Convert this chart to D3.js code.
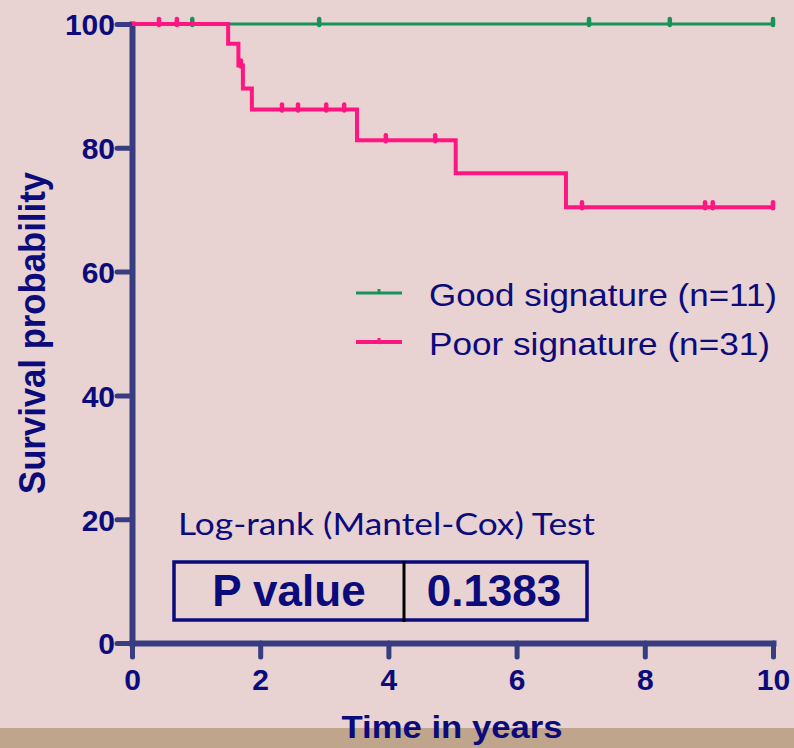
<!DOCTYPE html>
<html>
<head>
<meta charset="utf-8">
<script src="https://cdn.jsdelivr.net/npm/d3@7"></script>
<style>
  body { margin: 0; background: #e8d2d2; }
  svg { display: block; }
</style>
</head>
<body>
<script>
(function() {
  'use strict';

  // Kaplan-Meier steps
  const poorTimes = [0, 1.50, 1.66, 1.73, 1.87, 3.51, 5.05, 6.77, 10];
  const poorSurv = [100, 96.8, 93.3, 89.6, 86.2, 81.2, 75.9, 70.4, 70.4];
  const poorCensor = [0.42, 0.70, 1.70, 2.34, 2.59, 3.03, 3.31, 3.96, 4.73, 7.02, 8.94, 9.06, 10.0];

  const goodTimes = [0, 10];
  const goodSurv = [100, 100];
  const goodCensor = [0.94, 2.92, 7.13, 8.39, 10.0];

  const xTicks = [0, 2, 4, 6, 8, 10];
  const yTicks = [0, 20, 40, 60, 80, 100];
  const legendLabels = ['Good signature (n=11)', 'Poor signature (n=31)'];

  const w = 794;
  const h = 748;
  const navy = '#0b0b7c';
  const axisColor = '#383c80';
  const pink = '#ff1680';
  const green = '#17935a';

  const xScale = d3.scaleLinear().domain([0, 10]).range([132, 773]);
  const yScale = d3.scaleLinear().domain([0, 100]).range([643, 24]);

  const svg = d3.select('body').append('svg')
    .attr('width', w)
    .attr('height', h);

  svg.append('rect').attr('width', w).attr('height', h).attr('fill', '#e8d2d2');
  svg.append('rect').attr('y', 728).attr('width', w).attr('height', h - 728).attr('fill', '#bea58b');

  // axes
  const xAxis = svg.append('g')
    .attr('transform', 'translate(0,643)')
    .call(d3.axisBottom(xScale).tickValues(xTicks).tickSize(14).tickSizeOuter(0).tickFormat(d3.format('d')));
  const yAxis = svg.append('g')
    .attr('transform', 'translate(132,0)')
    .call(d3.axisLeft(yScale).tickValues(yTicks).tickSize(15).tickSizeOuter(0).tickFormat(d3.format('d')));

  [xAxis, yAxis].forEach((g) => {
    g.select('.domain').attr('stroke', axisColor).attr('stroke-width', 6).attr('stroke-linecap', 'square');
    g.selectAll('.tick line').attr('stroke', axisColor).attr('stroke-width', 5).attr('stroke-linecap', 'round');
    g.selectAll('.tick text')
      .attr('fill', navy)
      .style('font-family', '"Liberation Sans", Arial, sans-serif')
      .style('font-weight', 'bold')
      .style('font-size', '30px');
  });
  xAxis.selectAll('.tick text').attr('y', 47).attr('dy', 0);
  yAxis.selectAll('.tick text').attr('x', -17).attr('dy', '0.36em');

  // curves
  const line = d3.line()
    .x((d) => xScale(d[0]))
    .y((d) => yScale(d[1]))
    .curve(d3.curveStepAfter);

  function survAt(times, surv, t) {
    let v = surv[0];
    for (let i = 0; i < times.length; i++) {
      if (times[i] <= t) v = surv[i];
    }
    return v;
  }

  function drawCurve(times, surv, censor, color, width) {
    const pts = times.map((t, i) => [t, surv[i]]);
    svg.append('path')
      .datum(pts)
      .attr('fill', 'none')
      .attr('stroke', color)
      .attr('stroke-width', width)
      .attr('d', line);
    svg.selectAll(null)
      .data(censor)
      .enter()
      .append('line')
      .attr('x1', (d) => xScale(d))
      .attr('x2', (d) => xScale(d))
      .attr('y1', (d) => yScale(survAt(times, surv, d)) - 5)
      .attr('y2', (d) => yScale(survAt(times, surv, d)) + 1)
      .attr('stroke', color)
      .attr('stroke-width', 4.5)
      .attr('stroke-linecap', 'round');
  }

  drawCurve(goodTimes, goodSurv, goodCensor, green, 3);
  drawCurve(poorTimes, poorSurv, poorCensor, pink, 4);

  // legend
  const legendColors = [green, pink];
  const legend = svg.append('g');
  legendLabels.forEach((lab, i) => {
    const ly = 293 + i * 49;
    legend.append('line')
      .attr('x1', 356).attr('x2', 402).attr('y1', ly).attr('y2', ly)
      .attr('stroke', legendColors[i]).attr('stroke-width', i === 0 ? 3 : 4);
    legend.append('line')
      .attr('x1', 379).attr('x2', 379).attr('y1', ly - 4).attr('y2', ly)
      .attr('stroke', legendColors[i]).attr('stroke-width', 3);
    legend.append('text')
      .attr('x', 429).attr('y', ly + 13)
      .attr('fill', navy)
      .attr('textLength', i === 0 ? 348 : 341)
      .attr('lengthAdjust', 'spacingAndGlyphs')
      .style('font-family', '"Liberation Sans", Arial, sans-serif')
      .style('font-size', '32px')
      .text(lab);
  });

  // test result
  svg.append('text')
    .attr('x', 178).attr('y', 535)
    .attr('fill', navy)
    .attr('textLength', 417)
    .attr('lengthAdjust', 'spacingAndGlyphs')
    .style('font-family', 'Lato, "Open Sans", sans-serif')
    .style('font-size', '30px')
    .text('Log-rank (Mantel-Cox) Test');

  svg.append('rect')
    .attr('x', 174).attr('y', 562).attr('width', 413).attr('height', 58)
    .attr('fill', 'none').attr('stroke', navy).attr('stroke-width', 3.5);
  svg.append('line')
    .attr('x1', 404).attr('x2', 404).attr('y1', 561).attr('y2', 622)
    .attr('stroke', '#000').attr('stroke-width', 3);
  svg.append('text')
    .attr('x', 289).attr('y', 606)
    .attr('text-anchor', 'middle')
    .attr('fill', navy)
    .style('font-family', '"Liberation Sans", Arial, sans-serif')
    .style('font-weight', 'bold')
    .style('font-size', '44px')
    .text('P value');
  svg.append('text')
    .attr('x', 494).attr('y', 606)
    .attr('text-anchor', 'middle')
    .attr('fill', navy)
    .style('font-family', '"Liberation Sans", Arial, sans-serif')
    .style('font-weight', 'bold')
    .style('font-size', '44px')
    .text('0.1383');

  // axis titles
  svg.append('text')
    .attr('x', 452).attr('y', 738)
    .attr('text-anchor', 'middle')
    .attr('fill', navy)
    .attr('textLength', 221)
    .attr('lengthAdjust', 'spacingAndGlyphs')
    .style('font-family', '"Liberation Sans", Arial, sans-serif')
    .style('font-weight', 'bold')
    .style('font-size', '32px')
    .text('Time in years');

  svg.append('text')
    .attr('transform', 'translate(45,333) rotate(-90)')
    .attr('text-anchor', 'middle')
    .attr('fill', navy)
    .attr('textLength', 322)
    .attr('lengthAdjust', 'spacingAndGlyphs')
    .style('font-family', '"Liberation Sans", Arial, sans-serif')
    .style('font-weight', 'bold')
    .style('font-size', '37px')
    .text('Survival probability');
}());
</script>
</body>
</html>
